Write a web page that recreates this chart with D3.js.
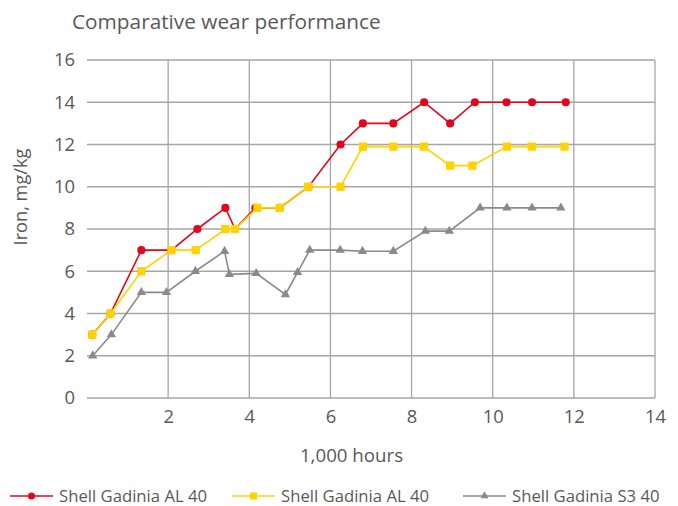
<!DOCTYPE html>
<html>
<head>
<meta charset="utf-8">
<script src="https://cdn.jsdelivr.net/npm/d3@7"></script>
<style>
  body { margin: 0; background: #fff; }
  text { font-family: "Open Sans", Lato, sans-serif; fill: #595959; }
</style>
</head>
<body>
<svg id="chart" width="678" height="506"></svg>
<script>
// data
const redHours = [0.13, 0.58, 1.34, 2.08, 2.72, 3.41, 3.65, 4.15, 4.75, 5.46, 6.25, 6.8, 7.55, 8.31, 8.95, 9.56, 10.34, 10.97, 11.8];
const redIron = [3, 4, 7, 7, 8, 9, 8, 9, 9, 10, 12, 13, 13, 14, 13, 14, 14, 14, 14];
const yellowHours = [0.13, 0.58, 1.34, 2.08, 2.68, 3.41, 3.65, 4.2, 4.75, 5.45, 6.25, 6.8, 7.55, 8.3, 8.95, 9.5, 10.35, 10.96, 11.77];
const yellowIron = [3, 4, 6, 7, 7, 8, 8, 9, 9, 10, 10, 11.9, 11.9, 11.9, 11, 11, 11.9, 11.9, 11.9];
const greyHours = [0.14, 0.6, 1.34, 1.96, 2.67, 3.39, 3.51, 4.17, 4.89, 5.19, 5.49, 6.24, 6.79, 7.55, 8.34, 8.93, 9.69, 10.35, 10.97, 11.68];
const greyIron = [2, 3, 5, 5, 6, 6.95, 5.85, 5.9, 4.9, 5.95, 7, 7, 6.95, 6.95, 7.9, 7.9, 9, 9, 9, 9];
const seriesNames = ["Shell Gadinia AL 40", "Shell Gadinia AL 40", "Shell Gadinia S3 40"];
const xTicks = [2, 4, 6, 8, 10, 12, 14];
const yTicks = [0, 2, 4, 6, 8, 10, 12, 14, 16];

const colors = ["#e3051b", "#ffd200", "#8a8a8a"];
const symbols = [d3.symbolCircle, d3.symbolSquare, d3.symbolTriangle];
const symSizes = [52, 68, 38];

const svg = d3.select("#chart");
const margin = { left: 87, right: 23, top: 60, bottom: 108 };
const W = 678, H = 506;

const x = d3.scaleLinear().domain([0, 14]).range([margin.left, W - margin.right]);
const y = d3.scaleLinear().domain([0, 16]).range([H - margin.bottom, margin.top]);

// grid
svg.append("g").selectAll("line").data(yTicks).join("line")
  .attr("x1", x(0)).attr("x2", x(14))
  .attr("y1", d => y(d)).attr("y2", d => y(d))
  .attr("stroke", "#a6a6a6").attr("stroke-width", 1.3);
svg.append("g").selectAll("line").data(xTicks).join("line")
  .attr("x1", d => x(d)).attr("x2", d => x(d))
  .attr("y1", y(0)).attr("y2", y(16))
  .attr("stroke", "#a6a6a6").attr("stroke-width", 1.3);

// axes (labels only)
const xAxis = svg.append("g").attr("transform", `translate(0,${y(0)})`)
  .call(d3.axisBottom(x).tickValues(xTicks).tickSize(0).tickPadding(12));
const yAxis = svg.append("g").attr("transform", `translate(${x(0)},0)`)
  .call(d3.axisLeft(y).tickValues(yTicks).tickSize(0).tickPadding(12));
[xAxis, yAxis].forEach(a => {
  a.select(".domain").remove();
  a.selectAll("text").attr("font-size", 18.4).attr("fill", "#595959")
    .attr("font-family", "'Open Sans', Lato, sans-serif");
});

svg.append("text").attr("x", 72).attr("y", 29).attr("font-size", 20.8)
  .text("Comparative wear performance");
svg.append("text").attr("x", 351.5).attr("y", 462).attr("text-anchor", "middle")
  .attr("font-size", 18.7).text("1,000 hours");
svg.append("text").attr("transform", `translate(27,197) rotate(-90)`)
  .attr("text-anchor", "middle").attr("font-size", 18.2).text("Iron, mg/kg");

const series = [
  { hours: redHours, iron: redIron },
  { hours: yellowHours, iron: yellowIron },
  { hours: greyHours, iron: greyIron }
];

const line = d3.line().x(d => x(d[0])).y(d => y(d[1]));

// grey at the back, yellow drawn over red as in the reference
[2, 0, 1].forEach(i => {
  const pts = series[i].hours.map((h, k) => [h, series[i].iron[k]]);
  const g = svg.append("g");
  g.append("path").datum(pts).attr("d", line)
    .attr("fill", "none").attr("stroke", colors[i]).attr("stroke-width", 1.6);
  g.selectAll("path.m").data(pts).join("path").attr("class", "m")
    .attr("transform", d => `translate(${x(d[0])},${y(d[1])})`)
    .attr("d", d3.symbol().type(symbols[i]).size(symSizes[i]))
    .attr("fill", colors[i]);
});

// legend
const legendX = [10, 232, 463];
const lg = svg.append("g").attr("transform", "translate(0,496)");
seriesNames.forEach((name, i) => {
  const g = lg.append("g").attr("transform", `translate(${legendX[i]},0)`);
  g.append("line").attr("x1", 0).attr("x2", 43).attr("stroke", colors[i]).attr("stroke-width", 1.6);
  g.append("path").attr("transform", "translate(21.5,0)")
    .attr("d", d3.symbol().type(symbols[i]).size(symSizes[i] * 0.75)).attr("fill", colors[i]);
  g.append("text").attr("x", 49).attr("y", 6).attr("font-size", 16.7).text(name);
});
</script>
</body>
</html>
